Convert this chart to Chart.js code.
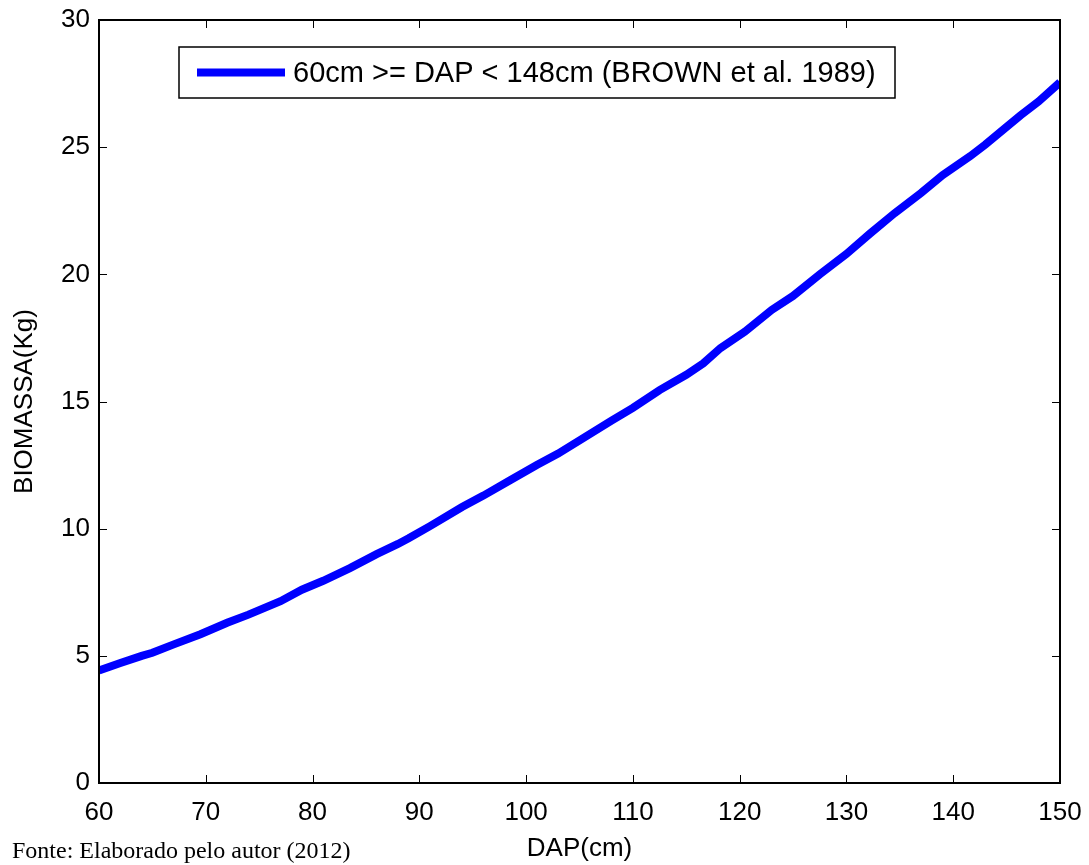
<!DOCTYPE html>
<html>
<head>
<meta charset="utf-8">
<script src="https://cdn.jsdelivr.net/npm/chart.js@4.4.0/dist/chart.umd.min.js"></script>
<style>
  html, body { margin: 0; padding: 0; background: #fff; }
</style>
</head>
<body>
<canvas id="myChart" width="1089" height="865"></canvas>
<script>
// values
const dap = [60, 62, 64, 65, 67, 69.5, 72, 74, 77, 79, 81, 83.5, 86, 88, 89, 91, 94, 96, 98.5, 101, 103, 105.5,
  108, 110, 112.5, 115, 116.6, 118.2, 120.5, 123, 125, 127.5, 130, 132.2, 134.5, 137, 139, 141.6, 143, 145, 146.3, 148, 150];
const biomassa = [4.42, 4.72, 5.0, 5.12, 5.45, 5.85, 6.3, 6.62, 7.15, 7.6, 7.95, 8.45, 9.0, 9.4, 9.62, 10.1, 10.85, 11.3, 11.9, 12.5, 12.95, 13.6,
  14.25, 14.75, 15.45, 16.05, 16.5, 17.1, 17.75, 18.6, 19.15, 20.0, 20.8, 21.6, 22.4, 23.2, 23.9, 24.65, 25.1, 25.8, 26.25, 26.8, 27.55];
const xTicks = [60, 70, 80, 90, 100, 110, 120, 130, 140, 150];
const yTicks = [0, 5, 10, 15, 20, 25, 30];

const legendLabel = "60cm >= DAP < 148cm (BROWN et al. 1989)";
const xTitle = "DAP(cm)";
const yTitle = "BIOMASSA(Kg)";
const fonte = "Fonte: Elaborado pelo autor (2012)";

const sans = "'Liberation Sans', Arial, Helvetica, sans-serif";

const points = dap.map((d, i) => ({ x: d, y: biomassa[i] }));

// matlab style frame, inward ticks, legend box and source note
const matlabLook = {
  id: "matlabLook",
  afterDraw(chart) {
    const { ctx, chartArea: a, scales } = chart;
    const xs = scales.x, ys = scales.y;
    const len = 8;
    ctx.save();
    ctx.strokeStyle = "#000";
    ctx.lineWidth = 1;
    ctx.beginPath();
    xTicks.forEach(v => {
      const px = Math.round(xs.getPixelForValue(v)) + 0.5;
      ctx.moveTo(px, a.bottom); ctx.lineTo(px, a.bottom - len);
      ctx.moveTo(px, a.top); ctx.lineTo(px, a.top + len);
    });
    yTicks.forEach(v => {
      const py = Math.round(ys.getPixelForValue(v)) + 0.5;
      ctx.moveTo(a.left, py); ctx.lineTo(a.left + len, py);
      ctx.moveTo(a.right, py); ctx.lineTo(a.right - len, py);
    });
    ctx.stroke();

    ctx.lineWidth = 2;
    ctx.strokeRect(a.left, a.top, a.right - a.left, a.bottom - a.top);

    // legend
    const lx = a.left + 80, ly = a.top + 27, lw = 716, lh = 51;
    ctx.fillStyle = "#fff";
    ctx.fillRect(lx, ly, lw, lh);
    ctx.lineWidth = 1.5;
    ctx.strokeRect(lx, ly, lw, lh);
    ctx.strokeStyle = "#0000ff";
    ctx.lineWidth = 8;
    ctx.beginPath();
    ctx.moveTo(lx + 18, ly + lh / 2);
    ctx.lineTo(lx + 106, ly + lh / 2);
    ctx.stroke();
    ctx.fillStyle = "#000";
    ctx.font = "29px " + sans;
    ctx.textBaseline = "middle";
    ctx.textAlign = "left";
    ctx.fillText(legendLabel, lx + 114, ly + lh / 2 + 1);

    // source note
    ctx.font = "24px 'Liberation Serif', 'Times New Roman', serif";
    ctx.textBaseline = "alphabetic";
    ctx.fillText(fonte, 12, 858);
    ctx.restore();
  }
};

new Chart(document.getElementById("myChart"), {
  type: "line",
  data: {
    datasets: [{
      label: legendLabel,
      data: points,
      borderColor: "#0000ff",
      borderWidth: 8,
      pointRadius: 0,
      tension: 0,
      fill: false
    }]
  },
  options: {
    responsive: false,
    animation: false,
    layout: { padding: { top: 20, right: 29, left: 0, bottom: 0 } },
    plugins: {
      legend: { display: false },
      tooltip: { enabled: false }
    },
    scales: {
      x: {
        type: "linear",
        min: 60,
        max: 150,
        afterFit: s => { s.height = 82; s.paddingLeft = 0; s.paddingRight = 0; },
        afterBuildTicks: s => { s.ticks = xTicks.map(v => ({ value: v })); },
        grid: { display: false, drawTicks: false },
        border: { display: false },
        ticks: { color: "#000", font: { size: 26, family: sans }, padding: 14, maxRotation: 0 },
        title: { display: true, text: xTitle, color: "#000", font: { size: 26, family: sans }, padding: { top: 0, bottom: 1 } }
      },
      y: {
        min: 0,
        max: 30,
        afterFit: s => { s.width = 99; s.paddingTop = 0; s.paddingBottom = 0; },
        afterBuildTicks: s => { s.ticks = yTicks.map(v => ({ value: v })); },
        grid: { display: false, drawTicks: false },
        border: { display: false },
        ticks: { color: "#000", font: { size: 26, family: sans }, padding: 9 },
        title: { display: true, text: yTitle, color: "#000", font: { size: 26, family: sans }, padding: { top: 9, bottom: 0 } }
      }
    }
  },
  plugins: [matlabLook]
});
</script>
</body>
</html>
